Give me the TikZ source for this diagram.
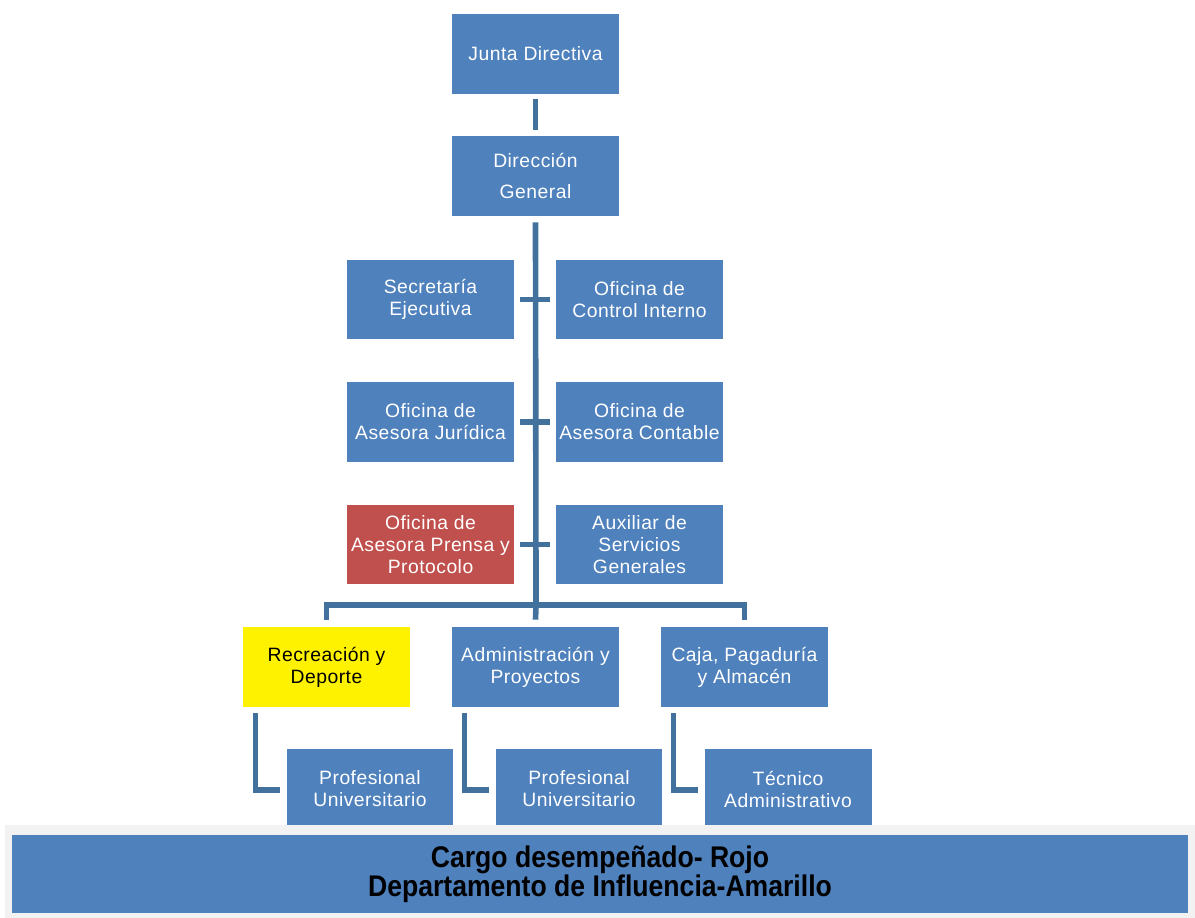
\documentclass[tikz,border=0pt]{standalone}
\usepackage{fontspec}
\setmainfont{Liberation Sans}
\newfontfamily\boxfont[LetterSpace=2.5]{Liberation Sans}
\newfontfamily\barfont[FakeStretch=0.89]{Liberation Sans}
\usetikzlibrary{calc}
\definecolor{boxblue}{HTML}{4F81BD}
\definecolor{lineblue}{HTML}{41719C}
\definecolor{boxred}{HTML}{C0504D}
\definecolor{barback}{HTML}{F2F2F2}
\tikzset{
  unit/.style={fill=boxblue, text=white, minimum width=3.34cm, minimum height=1.6cm,
    align=center, inner sep=0pt, font=\boxfont\fontsize{11}{12.5}\selectfont},
  conn/.style={draw=lineblue, line width=3.2pt},
}

\begin{document}
\begin{tikzpicture}[x=0.02cm, y=-0.02cm]
                \useasboundingbox (0,0) rectangle (1195,918);
                % boxes
                \node[unit] (junta) at (535.5,54) {Junta Directiva};
                \node[unit] (dir) at (535.5,176) {Dirección\\[5pt]General};
                \node[unit] (sec) at (430.5,299.5) {Secretaría\\Ejecutiva};
                \node[unit] (ctrl) at (639.5,299.5) {Oficina de\\Control Interno};
                \node[unit] (jur) at (430.5,422) {Oficina de\\Asesora Jurídica};
                \node[unit] (cont) at (639.5,422) {Oficina de\\Asesora Contable};
                \node[unit, fill=boxred] (prensa) at (430.5,544.5) {Oficina de\\Asesora Prensa y\\Protocolo};
                \node[unit] (aux) at (639.5,544.5) {Auxiliar de\\Servicios\\Generales};
                \node[unit, fill=yellow, text=black] (rec) at (326.5,667) {Recreación y\\Deporte};
                \node[unit] (adm) at (535.5,667) {Administración y\\Proyectos};
                \node[unit] (caja) at (744.5,667) {Caja, Pagaduría\\y Almacén};
                \node[unit] (prof1) at (370,789) {Profesional\\Universitario};
                \node[unit] (prof2) at (579,789) {Profesional\\Universitario};
                \node[unit] (tec) at (788,789) {Técnico\\Administrativo};
                % connectors
                \coordinate (hub) at (536,605);
                \draw[conn] ($(junta.south)+(0,5)$) -- ($(dir.north)+(0,-6)$);
                \draw[conn] ($(dir.south)+(0,6)$) -- (hub);
                \foreach \l/\r in {sec/ctrl, jur/cont, prensa/aux}{
                    \draw[conn] ($(\l.east)+(6,0)$) -- ($(\r.west)+(-6,0)$);
                }
                \draw[conn] ($(rec.north)+(0,-7)$) |- (hub) -| ($(caja.north)+(0,-7)$);
                \draw[conn] (hub) -- ($(adm.north)+(0,-7)$);
                \foreach \u/\s in {rec/prof1, adm/prof2, caja/tec}{
                    \draw[conn] ($(\u.south west)+(13,6)$) |- ($(\s.west)+(-6,1)$);
                }
                % legend bar
                \fill[barback] (5,825) rectangle (1195,918);
                \node[fill=boxblue, minimum width=23.52cm, minimum height=1.56cm, align=center,
                    font=\barfont\bfseries\fontsize{17}{16.5}\selectfont] (legend) at (600,874)
                    {Cargo desempeñado- Rojo\\Departamento de Influencia-Amarillo};
            \end{tikzpicture}
\end{document}
